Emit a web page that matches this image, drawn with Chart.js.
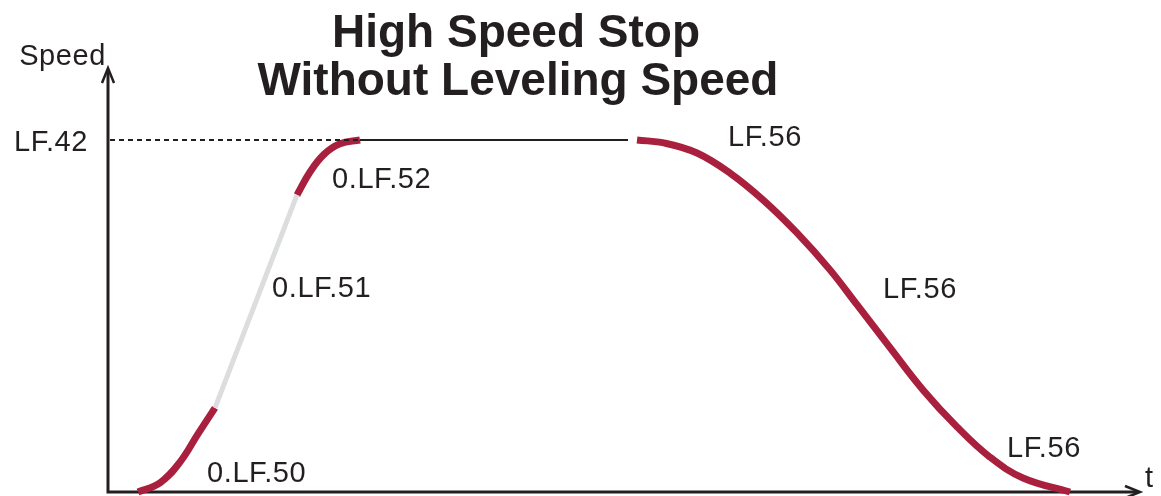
<!DOCTYPE html>
<html>
<head>
<meta charset="utf-8">
<script src="https://cdn.jsdelivr.net/npm/chart.js@4"></script>
<style>
  body { margin: 0; background: #fff; }
  #wrap { width: 1161px; height: 496px; }
</style>
</head>
<body>
<div id="wrap"><canvas id="speedChart" width="1161" height="496"></canvas></div>
<script>
// Speed profile (t, speed), speed 100 = LF.42
const accelStart = [[0.28, 0], [0.5, 2.6], [0.7, 8.5], [0.88, 16.5], [1.05, 23.9]];
const accelLinear = [[1.05, 23.9], [1.87, 84.4]];
const accelEnd = [[1.87, 84.4], [2.0, 90.9], [2.14, 95.9], [2.3, 98.9], [2.5, 100]];
const cruise = [[2.5, 100], [5.18, 100]];
const decel = [[5.27, 100], [5.55, 99.1], [5.87, 96.3], [6.2, 90.6], [6.53, 83.0], [6.87, 73.6],
  [7.2, 63.1], [7.47, 53.2], [7.8, 41.0], [8.13, 29.0], [8.47, 18.5], [8.8, 9.9],
  [9.13, 4.0], [9.6, 0]];
const refLevel = [[0, 100], [3.78, 100]];

const titleLines = ["High Speed Stop", "Without Leveling Speed"];
const yAxisName = "Speed";
const xAxisName = "t";
const refLabel = "LF.42";
const stageLabels = ["0.LF.50", "0.LF.51", "0.LF.52", "LF.56", "LF.56", "LF.56"];
// where each stage label sits (t, speed at text baseline)
const stageAnchors = [[0.97, 2.8], [1.62, 55.4], [2.22, 86.4], [6.18, 98.3], [7.73, 55.1], [8.97, 9.9]];

const CRIMSON = "#a8203d";
const GREY = "#dcdddf";
const INK = "#231f20";

function pts(arr) { return arr.map(p => ({ x: p[0], y: p[1] })); }

function arrowHead(ctx, x, y, dir) {
  ctx.beginPath();
  if (dir === "up") {
    ctx.moveTo(x - 6, y + 15); ctx.lineTo(x, y); ctx.lineTo(x + 6, y + 15);
  } else {
    ctx.moveTo(x - 15, y - 6); ctx.lineTo(x, y); ctx.lineTo(x - 15, y + 6);
  }
  ctx.stroke();
}

const diagramPlugin = {
  id: "diagram",
  beforeDatasetsDraw(chart) {
    const ctx = chart.ctx, a = chart.chartArea;
    ctx.save();
    ctx.strokeStyle = INK;
    ctx.lineWidth = 3;
    ctx.beginPath();
    ctx.moveTo(a.left, a.bottom + 1.5);
    ctx.lineTo(a.left, a.top + 2);
    ctx.moveTo(a.left - 1.5, a.bottom);
    ctx.lineTo(a.right - 2, a.bottom);
    ctx.stroke();
    ctx.lineWidth = 2.5;
    arrowHead(ctx, a.left, a.top, "up");
    arrowHead(ctx, a.right, a.bottom, "right");
    ctx.restore();
  },
  afterDraw(chart) {
    const ctx = chart.ctx, a = chart.chartArea;
    const xs = chart.scales.x, ys = chart.scales.y;
    ctx.save();
    ctx.fillStyle = INK;
    ctx.textBaseline = "alphabetic";

    ctx.font = 'bold 46px "Liberation Sans", Arial, sans-serif';
    ctx.textAlign = "center";
    ctx.fillText(titleLines[0], 516, 47);
    ctx.fillText(titleLines[1], 518, 95);

    ctx.font = '29px "Liberation Sans", Arial, sans-serif';
    ctx.letterSpacing = "0.6px";
    ctx.textAlign = "right";
    ctx.fillText(yAxisName, a.left - 2, 65);
    ctx.fillText(refLabel, a.left - 20, ys.getPixelForValue(100) + 11);
    ctx.textAlign = "left";
    ctx.fillText(xAxisName, a.right + 5, a.bottom - 5);
    stageLabels.forEach((txt, i) => {
      const [t, v] = stageAnchors[i];
      ctx.fillText(txt, xs.getPixelForValue(t), ys.getPixelForValue(v));
    });
    ctx.restore();
  }
};

function seg(data, color, width, extra) {
  return Object.assign({
    data: pts(data),
    borderColor: color,
    borderWidth: width,
    pointRadius: 0,
    fill: false,
    clip: false,
    borderCapStyle: "butt"
  }, extra || {});
}

new Chart(document.getElementById("speedChart"), {
  type: "line",
  data: {
    datasets: [
      seg(refLevel, INK, 2, { borderDash: [5, 4] }),
      seg(cruise, INK, 2),
      seg(accelLinear, GREY, 5),
      seg(accelStart, CRIMSON, 7, { tension: 0.4 }),
      seg(accelEnd, CRIMSON, 7, { tension: 0.4 }),
      seg(decel, CRIMSON, 7, { tension: 0.4 })
    ]
  },
  options: {
    responsive: false,
    animation: false,
    layout: { padding: { left: 108, right: 21, top: 68, bottom: 4 } },
    scales: {
      x: { type: "linear", min: -0.02, max: 10.3, display: false },
      y: { type: "linear", min: 0, max: 120.45, display: false }
    },
    plugins: {
      legend: { display: false },
      title: { display: false },
      tooltip: { enabled: false }
    }
  },
  plugins: [diagramPlugin]
});
</script>
</body>
</html>
